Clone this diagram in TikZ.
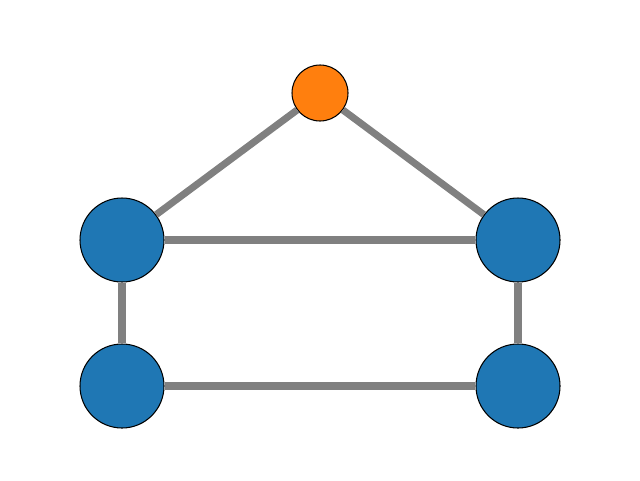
\documentclass[tikz,border=0pt]{standalone}
\usetikzlibrary{positioning}
\definecolor{nodeBlue}{HTML}{1F77B4}
\definecolor{nodeOrange}{HTML}{FF7F0E}
\definecolor{linkGray}{HTML}{808080}

\begin{document}
\begin{tikzpicture}[
  vtx/.style={circle, draw=black, line width=0.6pt, fill=nodeBlue,
              minimum size=1.68cm, inner sep=0pt},
  apex/.style={circle, draw=black, line width=0.6pt, fill=nodeOrange,
               minimum size=1.12cm, inner sep=0pt},
  link/.style={linkGray, line width=4pt}
]
\useasboundingbox (0,0) rectangle (12.8,9.6);
\node[apex] (top) at (6.4,7.74) {};
\node[vtx]  (ml)  at (2.44,4.8)  {};
\node[vtx]  (mr)  at (10.36,4.8) {};
\node[vtx]  (bl)  at (2.44,1.88) {};
\node[vtx]  (br)  at (10.36,1.88) {};
\draw[link] (top) -- (ml);
\draw[link] (top) -- (mr);
\draw[link] (ml) -- (mr);
\draw[link] (ml) -- (bl);
\draw[link] (mr) -- (br);
\draw[link] (bl) -- (br);
\end{tikzpicture}
\end{document}
